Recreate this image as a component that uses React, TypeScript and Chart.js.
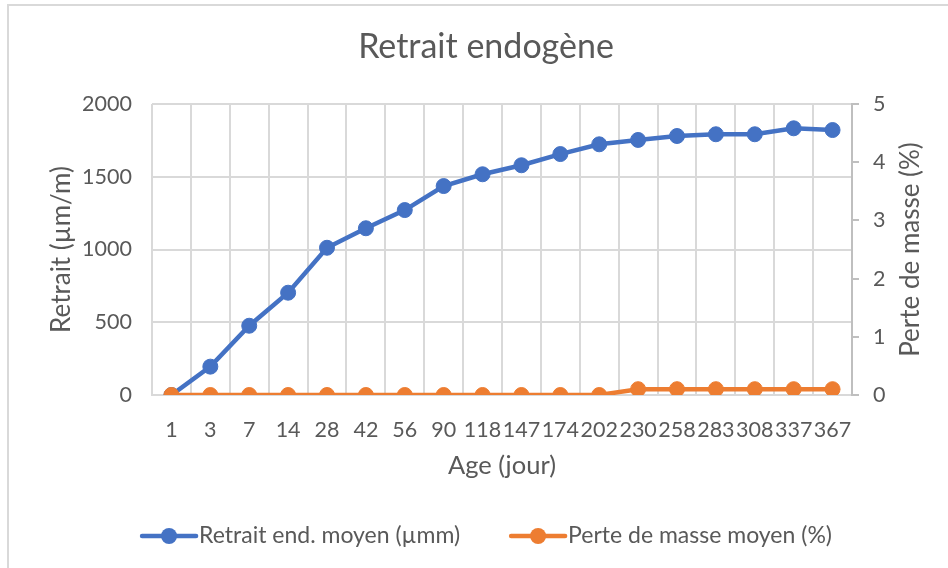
import React, { useEffect, useRef } from "react";
import { Chart, registerables } from "chart.js";

Chart.register(...registerables);

// ---- Data ----
const categories = ["1", "3", "7", "14", "28", "42", "56", "90", "118", "147", "174", "202", "230", "258", "283", "308", "337", "367"];
const retraitValues = [0, 195, 476, 703, 1012, 1146, 1271, 1436, 1517, 1579, 1656, 1723, 1753, 1780, 1792, 1792, 1833, 1821];
const perteValues = [0, 0, 0, 0, 0, 0, 0, 0, 0, 0, 0, 0, 0.1, 0.1, 0.1, 0.1, 0.1, 0.1];
const leftTicks = [0, 500, 1000, 1500, 2000];
const rightTicks = [0, 1, 2, 3, 4, 5];
const seriesLabels = ["Retrait end. moyen (µmm)", "Perte de masse moyen (%)"];
const titleText = "Retrait endogène";
const xTitle = "Age (jour)";
const yLeftTitle = "Retrait (µm/m)";
const yRightTitle = "Perte de masse (%)";

const BLUE = "#4472C4";
const ORANGE = "#ED7D31";
const TEXT = "#595959";
const GRID = "#D9D9D9";
const AXIS = "#BFBFBF";
const FONT = "Lato";

const rightTitlePlugin = {
  id: "rightTitle",
  afterDraw(chart: any) {
    const { ctx, chartArea } = chart;
    ctx.save();
    ctx.font = `26px ${FONT}`;
    ctx.fillStyle = TEXT;
    ctx.textAlign = "center";
    ctx.textBaseline = "middle";
    ctx.translate(911, (chartArea.top + chartArea.bottom) / 2);
    ctx.rotate(-Math.PI / 2);
    ctx.fillText(yRightTitle, 0, 0);
    ctx.restore();
  },
};

const legendPlugin = {
  id: "excelLegend",
  afterDraw(chart: any) {
    const { ctx } = chart;
    ctx.save();
    ctx.font = `23px ${FONT}`;
    const markerW = 54;
    const gap = 3;
    const itemGap = 51;
    const items = chart.data.datasets.map((ds: any) => ({
      text: ds.label as string,
      color: ds.borderColor as string,
      w: ctx.measureText(ds.label).width,
    }));
    const total =
      items.reduce((s: number, it: any) => s + markerW + gap + it.w, 0) + itemGap * (items.length - 1);
    let x = 487 - total / 2;
    const y = 536;
    items.forEach((it: any) => {
      ctx.strokeStyle = it.color;
      ctx.lineWidth = 4.5;
      ctx.lineCap = "round";
      ctx.beginPath();
      ctx.moveTo(x, y);
      ctx.lineTo(x + markerW, y);
      ctx.stroke();
      ctx.fillStyle = it.color;
      ctx.beginPath();
      ctx.arc(x + markerW / 2, y, 8, 0, Math.PI * 2);
      ctx.fill();
      ctx.fillStyle = TEXT;
      ctx.textAlign = "left";
      ctx.textBaseline = "middle";
      ctx.fillText(it.text, x + markerW + gap, y);
      x += markerW + gap + it.w + itemGap;
    });
    ctx.restore();
  },
};

export default function App() {
  const canvasRef = useRef<HTMLCanvasElement | null>(null);

  useEffect(() => {
    if (!canvasRef.current) return;
    Chart.defaults.font.family = FONT;
    Chart.defaults.color = TEXT;
    const chart = new Chart(canvasRef.current, {
      type: "line",
      data: {
        labels: categories,
        datasets: [
          {
            label: seriesLabels[0],
            data: retraitValues,
            yAxisID: "y",
            borderColor: BLUE,
            backgroundColor: BLUE,
            borderWidth: 4.5,
            pointRadius: 7.5,
            pointBorderWidth: 1,
            pointBackgroundColor: BLUE,
            pointBorderColor: BLUE,
            tension: 0,
            order: 1,
          },
          {
            label: seriesLabels[1],
            data: perteValues,
            yAxisID: "y1",
            borderColor: ORANGE,
            backgroundColor: ORANGE,
            borderWidth: 4.5,
            pointRadius: 7.5,
            pointBorderWidth: 1,
            pointBackgroundColor: ORANGE,
            pointBorderColor: ORANGE,
            tension: 0,
            order: 0,
          },
        ],
      },
      options: {
        responsive: false,
        animation: false,
        layout: { padding: { left: 24, right: 0, top: 0, bottom: 78 } },
        plugins: {
          legend: { display: false },
          tooltip: { enabled: false },
          title: {
            display: true,
            text: titleText,
            color: TEXT,
            font: { family: FONT, size: 34, weight: "normal" },
            padding: { top: 26.6, bottom: 36.6 },
          },
        },
        scales: {
          x: {
            type: "category",
            offset: true,
            grid: { offset: true, color: GRID, lineWidth: 2, drawTicks: false },
            border: { display: true, color: GRID, width: 2 },
            ticks: {
              autoSkip: false,
              maxRotation: 0,
              minRotation: 0,
              padding: 22,
              color: TEXT,
              font: { family: FONT, size: 21.5 },
            },
            title: {
              display: true,
              text: xTitle,
              color: TEXT,
              font: { family: FONT, size: 25.5 },
              padding: { top: 0, bottom: 8.7 },
            },
            afterFit: (scale: any) => {
              scale.height = 95;
            },
          },
          y: {
            position: "left",
            min: leftTicks[0],
            max: leftTicks[leftTicks.length - 1],
            ticks: {
              stepSize: leftTicks[1] - leftTicks[0],
              padding: 20,
              color: TEXT,
              font: { family: FONT, size: 21.5 },
              callback: (v: any) => String(v),
            },
            grid: { color: GRID, lineWidth: 2, drawTicks: false },
            border: { display: false },
            title: {
              display: true,
              text: yLeftTitle,
              color: TEXT,
              font: { family: FONT, size: 26 },
              padding: { top: 22.4, bottom: 0 },
            },
            afterFit: (scale: any) => {
              scale.width = 128;
            },
          },
          y1: {
            position: "right",
            min: rightTicks[0],
            max: rightTicks[rightTicks.length - 1],
            ticks: {
              stepSize: rightTicks[1] - rightTicks[0],
              padding: 14,
              color: TEXT,
              font: { family: FONT, size: 21.5 },
              callback: (v: any) => String(v),
            },
            grid: { drawOnChartArea: false, drawTicks: true, tickLength: 7, color: AXIS, lineWidth: 2 },
            border: { display: true, color: AXIS, width: 2 },
            afterFit: (scale: any) => {
              scale.width = 96;
            },
          },
        },
      },
      plugins: [rightTitlePlugin, legendPlugin],
    } as any);
    return () => chart.destroy();
  }, []);

  return (
    <div
      style={{
        position: "fixed",
        left: 0,
        top: 0,
        width: 948,
        height: 568,
        overflow: "hidden",
        background: "#ffffff",
      }}
    >
      <div
        style={{
          position: "absolute",
          left: 7,
          top: 4,
          width: 1200,
          height: 1200,
          border: `2px solid ${GRID}`,
          boxSizing: "border-box",
        }}
      />
      <canvas
        ref={canvasRef}
        width={948}
        height={568}
        style={{ position: "absolute", left: 0, top: 0, width: 948, height: 568 }}
      />
    </div>
  );
}
